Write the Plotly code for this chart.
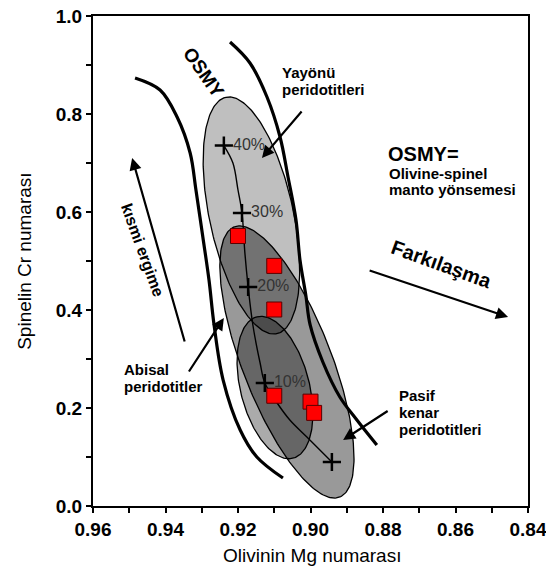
import numpy as np
import plotly.graph_objects as go

# --- Samples: olivine Mg# vs. spinel Cr# ---
sample_mg = [0.920, 0.910, 0.910, 0.910, 0.900, 0.899]
sample_cr = [0.551, 0.490, 0.401, 0.225, 0.213, 0.190]

# --- Fractional melting trend of fertile mantle ---
melt_mg = [0.9239, 0.9214, 0.9200, 0.9189, 0.9181, 0.9172, 0.9159,
           0.9139, 0.9126, 0.9092, 0.9057, 0.9010, 0.8941]
melt_cr = [0.7357, 0.7000, 0.6449, 0.5980, 0.5163, 0.4469, 0.3694,
           0.2918, 0.2510, 0.2102, 0.1755, 0.1408, 0.0898]
step_mg = [0.9239, 0.9189, 0.9172, 0.9126, 0.8941]
step_cr = [0.7357, 0.5980, 0.4469, 0.2510, 0.0898]
step_labels = ["40%", "30%", "20%", "10%", ""]

# --- OSMY (olivine-spinel mantle array) boundaries ---
osmy_left_mg = [0.9484, 0.9415, 0.9368, 0.9332, 0.9316, 0.9297, 0.9280,
                0.9266, 0.9241, 0.9194, 0.9148, 0.9076]
osmy_left_cr = [0.8735, 0.8490, 0.7939, 0.7204, 0.6449, 0.5490, 0.4612,
                0.3694, 0.2571, 0.1551, 0.1000, 0.0571]
osmy_right_mg = [0.9222, 0.9167, 0.9120, 0.9084, 0.9062, 0.9040, 0.9029,
                 0.9013, 0.9001, 0.8966, 0.8919, 0.8872, 0.8817]
osmy_right_cr = [0.9469, 0.9041, 0.8347, 0.7531, 0.6714, 0.5837, 0.5020,
                 0.4306, 0.3694, 0.2939, 0.2224, 0.1755, 0.1245]

# --- Peridotite fields: centre and two conjugate half-axes (Mg#, Cr#) ---
field_names = ["Yayönü", "Abisal", "Pasif kenar"]
field_mg = [0.9163, 0.9065, 0.9098]
field_cr = [0.5929, 0.2939, 0.2418]
field_major_dmg = [0.00703, 0.01454, 0.00497]
field_major_dcr = [0.2412, 0.2757, 0.1443]
field_minor_dmg = [-0.01131, -0.01145, -0.00921]
field_minor_dcr = [0.01816, 0.0331, 0.01735]

# --- Axis ticks ---
x_ticks = [0.96, 0.94, 0.92, 0.90, 0.88, 0.86, 0.84]
x_tick_text = ["0.96", "0.94", "0.92", "0.90", "0.88", "0.86", "0.84"]
y_ticks = [0.0, 0.2, 0.4, 0.6, 0.8, 1.0]
y_tick_text = ["0.0", "0.2", "0.4", "0.6", "0.8", "1.0"]

field_fill = {"Yayönü": "rgba(0,0,0,0.25)",
              "Abisal": "rgba(0,0,0,0.40)",
              "Pasif kenar": "rgba(0,0,0,0.33)"}

FONT = "Liberation Sans, Arial, sans-serif"

fig = go.Figure()

t = np.linspace(0, 2 * np.pi, 241)
for i, name in enumerate(field_names):
    ex = field_mg[i] + np.cos(t) * field_major_dmg[i] + np.sin(t) * field_minor_dmg[i]
    ey = field_cr[i] + np.cos(t) * field_major_dcr[i] + np.sin(t) * field_minor_dcr[i]
    fig.add_trace(go.Scatter(x=ex, y=ey, mode="lines", fill="toself",
                             fillcolor=field_fill[name],
                             line=dict(color="black", width=1.3),
                             hoverinfo="skip", showlegend=False))

for xs, ys in [(osmy_left_mg, osmy_left_cr), (osmy_right_mg, osmy_right_cr)]:
    fig.add_trace(go.Scatter(x=xs, y=ys, mode="lines",
                             line=dict(color="black", width=3.2, shape="spline"),
                             hoverinfo="skip", showlegend=False))

fig.add_trace(go.Scatter(x=melt_mg, y=melt_cr, mode="lines",
                         line=dict(color="black", width=1.4, shape="spline"),
                         hoverinfo="skip", showlegend=False))

fig.add_trace(go.Scatter(x=step_mg, y=step_cr, mode="markers+text",
                         text=step_labels, textposition="middle right",
                         textfont=dict(family=FONT, size=16, color="#333333"),
                         marker=dict(symbol="cross-thin", size=13,
                                     line=dict(color="black", width=2.5)),
                         hoverinfo="skip", showlegend=False))

fig.add_trace(go.Scatter(x=sample_mg, y=sample_cr, mode="markers",
                         marker=dict(symbol="square", size=15, color="#ff0000",
                                     line=dict(color="#5a0000", width=1)),
                         showlegend=False))

annotations = []


def label(x, y, text, size, angle=0, anchor="left", bold=True):
    annotations.append(dict(x=x, y=y, xref="x", yref="y", text=text,
                            showarrow=False, textangle=angle,
                            xanchor=anchor, yanchor="middle",
                            font=dict(family=FONT, size=size, color="black",
                                      weight="bold" if bold else "normal")))


def arrow(x, y, ax, ay):
    annotations.append(dict(x=x, y=y, ax=ax, ay=ay, xref="x", yref="y",
                            axref="x", ayref="y", text="", showarrow=True,
                            arrowhead=2, arrowsize=1.1, arrowwidth=2.2,
                            arrowcolor="black"))


label(0.9084, 0.8857, "Yayönü", 15)
label(0.9084, 0.8490, "peridotitleri", 15)
label(0.8792, 0.7184, "OSMY=", 20)
label(0.8789, 0.6796, "Olivine-spinel", 15)
label(0.8789, 0.6459, "manto yönsemesi", 15)
label(0.9520, 0.2796, "Abisal", 15)
label(0.9520, 0.2429, "peridotitler", 15)
label(0.8761, 0.2265, "Pasif", 15)
label(0.8761, 0.1918, "kenar", 15)
label(0.8761, 0.1571, "peridotitleri", 15)
label(0.8640, 0.4939, "Farkılaşma", 20, angle=20, anchor="center")
label(0.9462, 0.5224, "kısmi ergime", 16, angle=70, anchor="center")
label(0.9294, 0.8857, "OSMY", 19, angle=55, anchor="center")

arrow(0.9492, 0.7102, 0.9346, 0.3327)   # kısmi ergime
arrow(0.8455, 0.3857, 0.8841, 0.4816)   # Farkılaşma
arrow(0.9134, 0.7102, 0.9021, 0.8082)   # Yayönü
arrow(0.9239, 0.3837, 0.9338, 0.2714)   # Abisal
arrow(0.8910, 0.1347, 0.8783, 0.1959)   # Pasif kenar

annotations.append(dict(x=-0.159, y=0.50, xref="paper", yref="paper",
                        text="Spinelin Cr numarası", showarrow=False,
                        textangle=-90, xanchor="center", yanchor="middle",
                        font=dict(family=FONT, size=19, color="black")))
annotations.append(dict(x=0.503, y=-0.10, xref="paper", yref="paper",
                        text="Olivinin Mg numarası", showarrow=False,
                        xanchor="center", yanchor="middle",
                        font=dict(family=FONT, size=19, color="black")))

axis_common = dict(showgrid=False, zeroline=False, showline=True,
                   linecolor="black", linewidth=2, mirror=True,
                   ticks="outside", ticklen=5, tickwidth=2, tickcolor="black",
                   ticklabeloverflow="allow", automargin=False,
                   tickfont=dict(family=FONT, size=19, color="black", weight="bold"))

fig.update_layout(
    width=546, height=578,
    margin=dict(l=93, r=18, t=16, b=72, autoexpand=False),
    paper_bgcolor="white", plot_bgcolor="white",
    xaxis=dict(range=[0.96, 0.84], tickmode="array", tickvals=x_ticks,
               ticktext=x_tick_text,
               minor=dict(tickmode="linear", tick0=0.84, dtick=0.01,
                          ticks="outside", ticklen=5, tickwidth=2,
                          tickcolor="black", showgrid=False),
               **axis_common),
    yaxis=dict(range=[0, 1.0], tickmode="array", tickvals=y_ticks,
               ticktext=y_tick_text,
               minor=dict(tickmode="linear", tick0=0, dtick=0.1,
                          ticks="outside", ticklen=5, tickwidth=2,
                          tickcolor="black", showgrid=False),
               **axis_common),
    annotations=annotations,
)

fig.write_html("out.html")
